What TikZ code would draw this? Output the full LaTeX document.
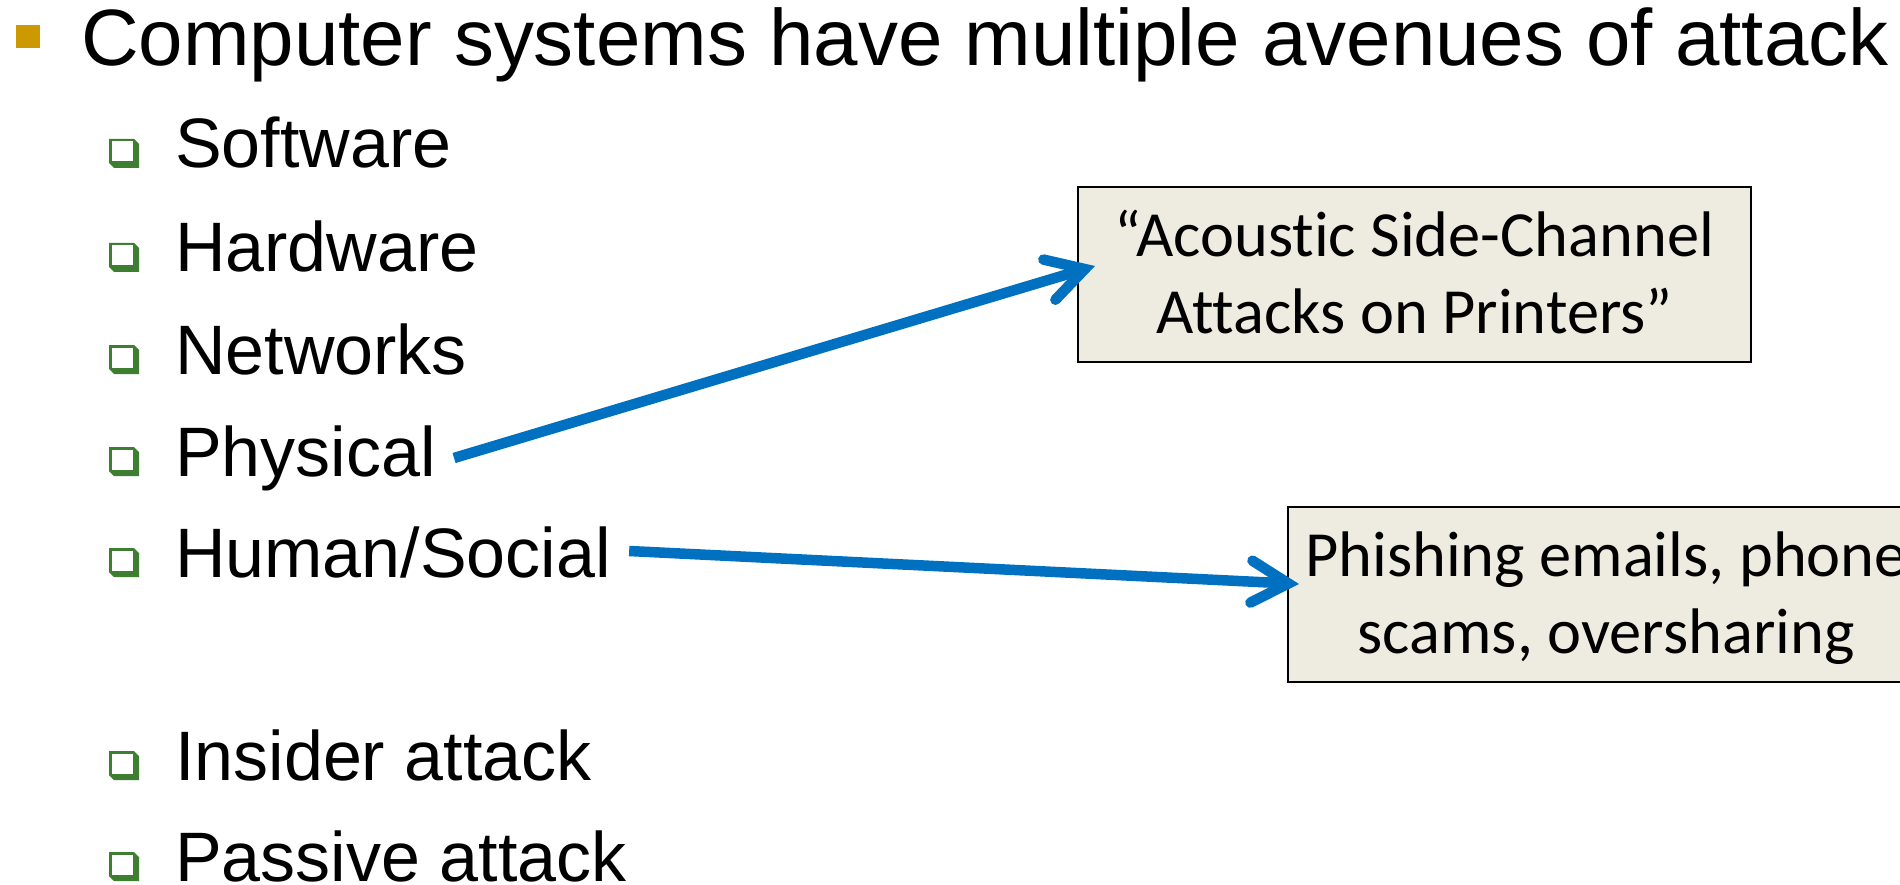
\documentclass[tikz,border=0pt]{standalone}
\usepackage{fontspec}
\setmainfont{Liberation Sans}
\newfontfamily\calib[Ligatures=NoCommon]{Carlito}
\usetikzlibrary{arrows.meta,calc}
\definecolor{gold}{RGB}{204,153,0}
\definecolor{bgreen}{RGB}{62,126,48}
\definecolor{ablue}{RGB}{0,112,192}
\definecolor{tanfill}{RGB}{238,236,225}
\tikzset{
  gbul/.pic={
    \fill[bgreen] (0,-29) -- (25,-29) -- (30,-24) -- (30,0) -- (5,0) -- (0,-5) -- cycle;
    \fill[white] (2.5,-26.5) rectangle (24,-6.5);
  },
  item/.style={anchor=base west, inner sep=0pt, font=\fontsize{70}{80}\selectfont},
  callout/.style={draw=black, line width=2pt, fill=tanfill, inner sep=0pt, outer sep=0pt,
    minimum height=175pt, align=center, font=\calib\fontsize{64.4}{76.5}\selectfont},
  arr/.style={draw=ablue, line width=10.5pt,
    -{Straight Barb[length=37pt,width=42pt,line cap=round,line join=miter]}},
}
\begin{document}
\begin{tikzpicture}[x=1pt,y=-1pt]
\useasboundingbox (0,0) rectangle (1900,885);
% title
\node[fill=gold, minimum width=24pt, minimum height=23pt, inner sep=0pt, anchor=north west] (tb) at (16,25) {};
\node[anchor=base west, inner sep=0pt, font=\fontsize{79.9}{90}\selectfont] (title) at (81,66) {Computer systems have multiple avenues of attack};
% items
\pic at (109,168) {gbul};
\node[item] (sw) at (175,168) {Software};
\pic at (109,272) {gbul};
\node[item] (hw) at (175,272) {Hardware};
\pic at (109,374) {gbul};
\node[item] (nw) at (175,374) {Networks};
\pic at (109,476) {gbul};
\node[item] (phys) at (175,476) {Physical};
\pic at (109,577) {gbul};
\node[item] (hum) at (175,577) {Human/Social};
\pic at (109,780) {gbul};
\node[item] (ins) at (175,780) {Insider attack};
\pic at (109,881) {gbul};
\node[item] (pas) at (175,881) {Passive attack};
% callouts
\node[callout, minimum width=673pt] (box1) at (1414.5,274.5)
  {\rule{0pt}{55pt}“Acoustic Side-Channel\\Attacks on Printers”\rule[-14pt]{0pt}{14pt}};
\node[callout, minimum width=636pt] (box2) at (1606,594.5)
  {\rule{0pt}{55pt}Phishing emails, phone\\scams, oversharing\rule[-14pt]{0pt}{14pt}};
% arrows
\draw[arr] ($(phys.base east)+(18,-18)$) -- ($(box1.west)+(17,-8.5)$);
\draw[arr] ($(hum.base east)+(18,-26)$) -- ($(box2.west)+(11,-10.5)$);
\end{tikzpicture}
\end{document}
